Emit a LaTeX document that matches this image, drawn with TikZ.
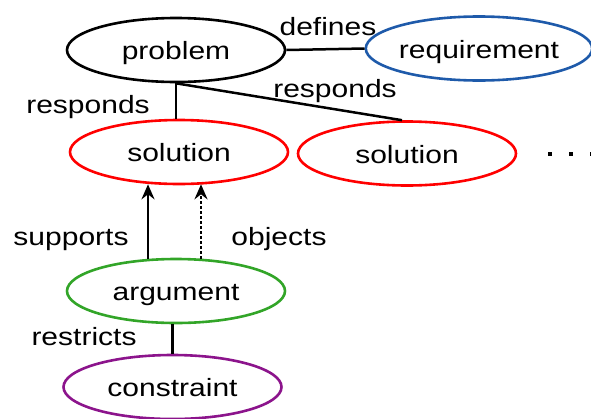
\documentclass[tikz,border=0pt]{standalone}
\usepackage{fontspec}
\setmainfont[FakeStretch=1.2]{Liberation Sans}
\usetikzlibrary{shapes.geometric,arrows.meta,calc}

\definecolor{reqblue}{RGB}{30,90,170}
\definecolor{solred}{RGB}{255,0,0}
\definecolor{arggreen}{RGB}{50,165,40}
\definecolor{conpurple}{RGB}{140,20,140}

\begin{document}
\begin{tikzpicture}[x=1pt,y=-1pt,
  every node/.style={font=\fontsize{25}{30}\selectfont},
  concept/.style={ellipse, draw, line width=2.6pt, minimum width=218pt,
    minimum height=64pt, inner sep=0pt, text height=19pt, text depth=0pt},
  rel/.style={line width=2.5pt},
  lbl/.style={anchor=base, inner sep=0pt},
  arr/.style={rel, -{Stealth[length=15pt,width=13pt,inset=5pt]}},
  dotline/.style={dash pattern=on 2.5pt off 2.5pt},
]
\useasboundingbox (0,0) rectangle (591,418);

% concepts
\node[concept]                 (prob) at (176,50)    {problem};
\node[concept, draw=reqblue]   (req)  at (479,48.5)  {requirement};
\node[concept, draw=solred]    (sola) at (179,152)   {solution};
\node[concept, draw=solred]    (solb) at (407,153.5) {solution};
\node[concept, draw=arggreen]  (arg)  at (176,291)   {argument};
\node[concept, draw=conpurple] (con)  at (172.5,387) {constraint};

% relations
\draw[rel] (prob.east) -- (req.west);
\draw[rel] (prob.south) -- (prob.south |- sola.north);
\draw[rel] (prob.south) -- ($(solb.north)+(-5,0)$);
\draw[arr] ($(arg.north)+(-28,1)$) -- ($(sola.south)+(-31,-1)$);
\draw[arr, dotline] ($(arg.north)+(25,1)$) -- ($(sola.south)+(22,-1)$);
\draw[rel] (con.north) -- (con.north |- arg.south);

% relation labels
\node[lbl] (ldef)  at (328,35)  {defines};
\node[lbl] (lres1) at (88,113)  {responds};
\node[lbl] (lres2) at (335,97)  {responds};
\node[lbl] (lsup)  at (71,245)  {supports};
\node[lbl] (lobj)  at (279,245) {objects};
\node[lbl] (lrst)  at (84,345)  {restricts};

% continuation dots
\foreach \dx in {550,571,592}
  \fill (\dx-2,152) rectangle +(4,4);
\end{tikzpicture}
\end{document}
